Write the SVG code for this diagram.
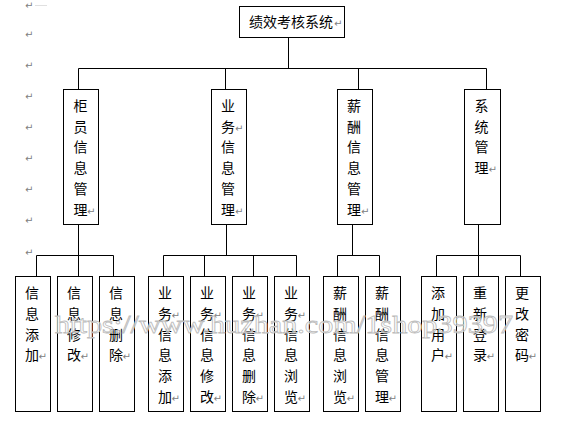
<svg xmlns="http://www.w3.org/2000/svg" width="562" height="421" viewBox="0 0 562 421">
<style>
.box{fill:#fff;stroke:#000;stroke-width:1}
.ln{fill:none;stroke:#000;stroke-width:1}
.t{font-family:"Noto Sans CJK SC","Noto Sans CJK JP",sans-serif;font-size:14px;fill:#000;text-anchor:middle}
.r{font-family:"DejaVu Sans",sans-serif;font-size:10px;fill:#808080}
.wm{font-family:"Liberation Serif",serif;font-size:26px;fill:#fff;fill-opacity:0.6;stroke:#bcbcbc;stroke-width:0.8}
</style>
<rect width="562" height="421" fill="#fff"/>
<g id="margin-marks">
<line x1="35" y1="5.5" x2="47" y2="5.5" stroke="#e0e0e0" stroke-width="1"/>
<text class="r" x="25" y="9">↵</text>
<text class="r" x="25" y="38">↵</text>
<text class="r" x="25" y="69">↵</text>
<text class="r" x="25" y="100">↵</text>
<text class="r" x="25" y="131">↵</text>
<text class="r" x="25" y="162">↵</text>
<text class="r" x="25" y="193">↵</text>
<text class="r" x="25" y="224">↵</text>
<text class="r" x="25" y="256">↵</text>
</g>
<g id="connectors">
<path class="ln" d="M288.5 37.5V68.5M78.5 68.5H486.5M78.5 68.5V89.5M225.5 68.5V89.5M358.5 68.5V89.5M486.5 68.5V89.5"/>
<path class="ln" d="M78.5 224.5V276.5M36.5 255.5H113.5M36.5 255.5V276.5M113.5 255.5V276.5"/>
<path class="ln" d="M226.5 224.5V255.5M163.5 255.5H296.5M163.5 255.5V276.5M204.5 255.5V276.5M253.5 255.5V276.5M296.5 255.5V276.5"/>
<path class="ln" d="M352.5 224.5V255.5M337.5 255.5H379.5M337.5 255.5V276.5M379.5 255.5V276.5"/>
<path class="ln" d="M478.5 224.5V276.5M436.5 255.5H520.5M436.5 255.5V276.5M520.5 255.5V276.5"/>
</g>
<g id="root">
<rect class="box" x="239.5" y="6.5" width="105" height="31"/>
<text class="t" x="291" y="27">绩效考核系统</text>
<text class="r" x="334" y="27">↵</text>
</g>
<g id="n-guiyuan">
<rect class="box" x="63.5" y="89.5" width="35" height="135"/>
<text class="t" x="80.5" y="111"><tspan x="80.5">柜</tspan><tspan x="80.5" dy="20.7">员</tspan><tspan x="80.5" dy="20.7">信</tspan><tspan x="80.5" dy="20.7">息</tspan><tspan x="80.5" dy="20.7">管</tspan><tspan x="80.5" dy="20.7">理</tspan></text>
<text class="r" x="87" y="214.5">↵</text>
</g>
<g id="n-yewu">
<rect class="box" x="211.5" y="89.5" width="35" height="135"/>
<text class="t" x="228" y="111"><tspan x="228">业</tspan><tspan x="228" dy="20.7">务</tspan><tspan x="228" dy="20.7">信</tspan><tspan x="228" dy="20.7">息</tspan><tspan x="228" dy="20.7">管</tspan><tspan x="228" dy="20.7">理</tspan></text>
<text class="r" x="235" y="131.7">↵</text>
<text class="r" x="235" y="214.5">↵</text>
</g>
<g id="n-xinchou">
<rect class="box" x="337.5" y="89.5" width="35" height="135"/>
<text class="t" x="354" y="111"><tspan x="354">薪</tspan><tspan x="354" dy="20.7">酬</tspan><tspan x="354" dy="20.7">信</tspan><tspan x="354" dy="20.7">息</tspan><tspan x="354" dy="20.7">管</tspan><tspan x="354" dy="20.7">理</tspan></text>
<text class="r" x="361" y="214.5">↵</text>
</g>
<g id="n-xitong">
<rect class="box" x="464.5" y="89.5" width="36" height="135"/>
<text class="t" x="481.5" y="111"><tspan x="481.5">系</tspan><tspan x="481.5" dy="20.7">统</tspan><tspan x="481.5" dy="20.7">管</tspan><tspan x="481.5" dy="20.7">理</tspan></text>
<text class="r" x="488.5" y="173.1">↵</text>
</g>
<g id="l1">
<rect class="box" x="15.5" y="276.5" width="35" height="135"/>
<text class="t" x="32" y="298.3"><tspan x="32">信</tspan><tspan x="32" dy="20.7">息</tspan><tspan x="32" dy="20.7">添</tspan><tspan x="32" dy="20.7">加</tspan></text>
<text class="r" x="38.5" y="360.4">↵</text>
</g>
<g id="l2">
<rect class="box" x="57.5" y="276.5" width="35" height="135"/>
<text class="t" x="74" y="298.3"><tspan x="74">信</tspan><tspan x="74" dy="20.7">息</tspan><tspan x="74" dy="20.7">修</tspan><tspan x="74" dy="20.7">改</tspan></text>
<text class="r" x="80.5" y="360.4">↵</text>
</g>
<g id="l3">
<rect class="box" x="99.5" y="276.5" width="35" height="135"/>
<text class="t" x="116" y="298.3"><tspan x="116">信</tspan><tspan x="116" dy="20.7">息</tspan><tspan x="116" dy="20.7">删</tspan><tspan x="116" dy="20.7">除</tspan></text>
<text class="r" x="122.5" y="360.4">↵</text>
</g>
<g id="l4">
<rect class="box" x="148.5" y="276.5" width="35" height="135"/>
<text class="t" x="165" y="298.3"><tspan x="165">业</tspan><tspan x="165" dy="20.7">务</tspan><tspan x="165" dy="20.7">信</tspan><tspan x="165" dy="20.7">息</tspan><tspan x="165" dy="20.7">添</tspan><tspan x="165" dy="20.7">加</tspan></text>
<text class="r" x="171.5" y="319">↵</text>
<text class="r" x="171.5" y="401.8">↵</text>
</g>
<g id="l5">
<rect class="box" x="190.5" y="276.5" width="35" height="135"/>
<text class="t" x="207" y="298.3"><tspan x="207">业</tspan><tspan x="207" dy="20.7">务</tspan><tspan x="207" dy="20.7">信</tspan><tspan x="207" dy="20.7">息</tspan><tspan x="207" dy="20.7">修</tspan><tspan x="207" dy="20.7">改</tspan></text>
<text class="r" x="213.5" y="319">↵</text>
<text class="r" x="213.5" y="401.8">↵</text>
</g>
<g id="l6">
<rect class="box" x="232.5" y="276.5" width="35" height="135"/>
<text class="t" x="249" y="298.3"><tspan x="249">业</tspan><tspan x="249" dy="20.7">务</tspan><tspan x="249" dy="20.7">信</tspan><tspan x="249" dy="20.7">息</tspan><tspan x="249" dy="20.7">删</tspan><tspan x="249" dy="20.7">除</tspan></text>
<text class="r" x="255.5" y="319">↵</text>
<text class="r" x="255.5" y="401.8">↵</text>
</g>
<g id="l7">
<rect class="box" x="274.5" y="276.5" width="35" height="135"/>
<text class="t" x="291" y="298.3"><tspan x="291">业</tspan><tspan x="291" dy="20.7">务</tspan><tspan x="291" dy="20.7">信</tspan><tspan x="291" dy="20.7">息</tspan><tspan x="291" dy="20.7">浏</tspan><tspan x="291" dy="20.7">览</tspan></text>
<text class="r" x="297.5" y="319">↵</text>
<text class="r" x="297.5" y="401.8">↵</text>
</g>
<g id="l8">
<rect class="box" x="323.5" y="276.5" width="35" height="135"/>
<text class="t" x="340" y="298.3"><tspan x="340">薪</tspan><tspan x="340" dy="20.7">酬</tspan><tspan x="340" dy="20.7">信</tspan><tspan x="340" dy="20.7">息</tspan><tspan x="340" dy="20.7">浏</tspan><tspan x="340" dy="20.7">览</tspan></text>
<text class="r" x="346.5" y="401.8">↵</text>
</g>
<g id="l9">
<rect class="box" x="365.5" y="276.5" width="35" height="135"/>
<text class="t" x="382" y="298.3"><tspan x="382">薪</tspan><tspan x="382" dy="20.7">酬</tspan><tspan x="382" dy="20.7">信</tspan><tspan x="382" dy="20.7">息</tspan><tspan x="382" dy="20.7">管</tspan><tspan x="382" dy="20.7">理</tspan></text>
<text class="r" x="388.5" y="401.8">↵</text>
</g>
<g id="l10">
<rect class="box" x="421.5" y="276.5" width="35" height="135"/>
<text class="t" x="438" y="298.3"><tspan x="438">添</tspan><tspan x="438" dy="20.7">加</tspan><tspan x="438" dy="20.7">用</tspan><tspan x="438" dy="20.7">户</tspan></text>
<text class="r" x="444.5" y="360.4">↵</text>
</g>
<g id="l11">
<rect class="box" x="463.5" y="276.5" width="35" height="135"/>
<text class="t" x="480" y="298.3"><tspan x="480">重</tspan><tspan x="480" dy="20.7">新</tspan><tspan x="480" dy="20.7">登</tspan><tspan x="480" dy="20.7">录</tspan></text>
<text class="r" x="486.5" y="360.4">↵</text>
</g>
<g id="l12">
<rect class="box" x="505.5" y="276.5" width="35" height="135"/>
<text class="t" x="522" y="298.3"><tspan x="522">更</tspan><tspan x="522" dy="20.7">改</tspan><tspan x="522" dy="20.7">密</tspan><tspan x="522" dy="20.7">码</tspan></text>
<text class="r" x="528.5" y="360.4">↵</text>
</g>
<g id="watermark">
<text class="wm" x="55" y="333" textLength="458" lengthAdjust="spacingAndGlyphs">https://www.huzhan.com/1shop39397</text>
</g>
</svg>
